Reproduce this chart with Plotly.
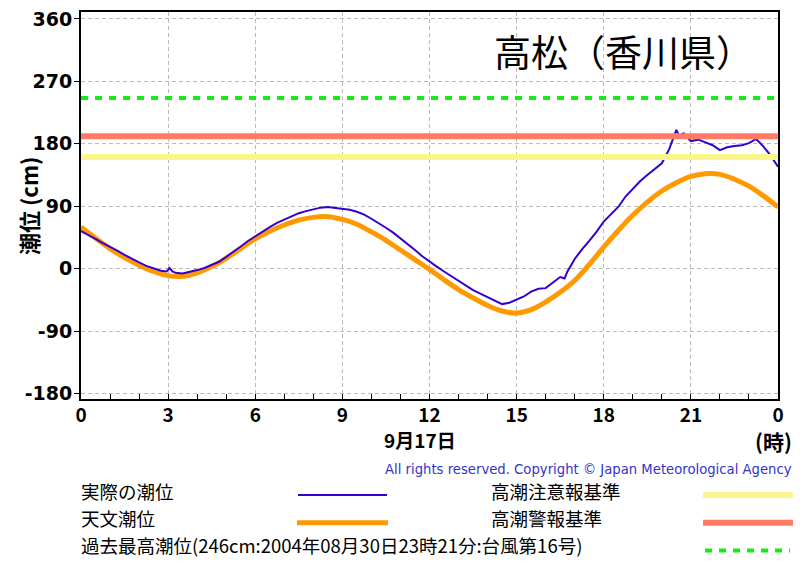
import plotly.graph_objects as go

# --- chart data -------------------------------------------------------------
STATION = "高松（香川県）"
DATE_LABEL = "9月17日"
HOUR_UNIT = "(時)"
Y_TITLE = "潮位 (cm)"
COPYRIGHT = "All rights reserved. Copyright © Japan Meteorological Agency"

HOUR_TICKS = [0, 3, 6, 9, 12, 15, 18, 21, 24]
HOUR_TICK_TEXT = ["0", "3", "6", "9", "12", "15", "18", "21", "0"]
LEVEL_TICKS = [-180, -90, 0, 90, 180, 270, 360]

# astronomical tide (天文潮位), every 30 minutes
ASTRO_HOURS = [h / 2 for h in range(49)]
ASTRO_CM = [
    60, 44, 29, 16, 5, -4, -10, -11, -6, 3, 15, 29, 43, 54, 63, 70, 74, 75,
    71, 64, 53, 41, 27, 13, -1, -16, -30, -42, -53, -61, -64, -59, -48, -34,
    -17, 6, 31, 55, 77, 96, 112, 124, 133, 137, 136, 129, 119, 105, 89,
]

# observed tide (実際の潮位)
OBS_HOURS = [
    0.00, 0.25, 0.50, 0.75, 1.00, 1.25, 1.50, 1.75, 2.00, 2.25, 2.50, 2.75,
    2.95, 3.05, 3.15, 3.25, 3.50, 3.75, 4.00, 4.25, 4.50, 4.75, 5.00, 5.25,
    5.50, 5.75, 6.00, 6.25, 6.50, 6.75, 7.00, 7.25, 7.50, 7.75, 8.00, 8.25,
    8.50, 8.75, 9.00, 9.25, 9.50, 9.75, 10.00, 10.25, 10.50, 10.75, 11.00,
    11.25, 11.50, 11.75, 12.00, 12.25, 12.50, 12.75, 13.00, 13.25, 13.50,
    13.75, 14.00, 14.25, 14.50, 14.75, 15.00, 15.25, 15.50, 15.75, 16.00,
    16.25, 16.50, 16.65, 16.75, 17.00, 17.25, 17.50, 17.75, 18.00, 18.25,
    18.50, 18.75, 19.00, 19.25, 19.50, 19.75, 20.00, 20.25, 20.40, 20.50,
    20.60, 20.75, 21.00, 21.25, 21.50, 21.75, 22.00, 22.25, 22.50, 22.75,
    23.00, 23.25, 23.50, 23.75, 24.00,
]
OBS_CM = [
    54, 49, 43, 37, 32, 26, 20, 14, 9, 4, 0, -3,
    -4, 1, -4, -6, -7, -5, -2, 1, 5, 10, 17, 24,
    32, 40, 47, 54, 60, 66, 71, 76, 80, 83, 86, 88,
    89, 88, 86, 85, 82, 78, 72, 66, 59, 52, 44,
    36, 27, 18, 10, 3, -4, -11, -18, -25, -31,
    -36, -41, -46, -51, -49, -45, -40, -33, -29, -28,
    -20, -12, -14, -4, 14, 28, 40, 53, 68, 78,
    89, 104, 115, 126, 135, 143, 152, 172, 190, 200,
    191, 195, 184, 186, 182, 178, 171, 175, 177, 178,
    181, 187, 176, 163, 147,
]

CAUTION_CM = 161      # 高潮注意報基準
WARNING_CM = 191      # 高潮警報基準
RECORD_CM = 246       # 過去最高潮位

LEGEND_LEFT = ["実際の潮位", "天文潮位",
               "過去最高潮位(246cm:2004年08月30日23時21分:台風第16号)"]
LEGEND_RIGHT = ["高潮注意報基準", "高潮警報基準"]

# --- styling -----------------------------------------------------------------
OBS_COLOR = "#3300cc"
ASTRO_COLOR = "#ff9900"
CAUTION_COLOR = "#f9f68d"
WARNING_COLOR = "#ff7b66"
RECORD_COLOR = "#11ee11"
GRID = "#bbbbbb"
JP_FONT = "Noto Sans CJK JP"

# the page body adds an 8px margin, so the figure is 16px smaller than the
# window; pixel positions below are page positions of the reference.
BODY = 8
FIG_W, FIG_H = 802 - 2 * BODY, 568 - 2 * BODY
PX_L, PX_R, PX_T, PX_B = 81, 778, 8, 399
EDGE = 802 - BODY - 1  # last visible page column


def px_x(x):
    return (x - PX_L) / (PX_R - PX_L)


def px_y(y):
    return (PX_B - y) / (PX_B - PX_T)


def note(text, x, y, size, family=JP_FONT, xanchor="center", color="black",
         **kw):
    return dict(text=text, x=px_x(x), y=px_y(y), xref="paper", yref="paper",
                xanchor=xanchor, yanchor="middle", showarrow=False,
                borderpad=0,
                font=dict(family=family, size=size, color=color), **kw)


fig = go.Figure()

fig.add_trace(go.Scatter(x=ASTRO_HOURS, y=ASTRO_CM, mode="lines",
                         line=dict(color=ASTRO_COLOR, width=5, shape="spline")))
fig.add_trace(go.Scatter(x=OBS_HOURS, y=OBS_CM, mode="lines",
                         line=dict(color=OBS_COLOR, width=2)))
for level, color, width, dash in [
    (CAUTION_CM, CAUTION_COLOR, 6, "solid"),
    (WARNING_CM, WARNING_COLOR, 6, "solid"),
    (RECORD_CM, RECORD_COLOR, 4, "7px,7px"),
]:
    fig.add_trace(go.Scatter(x=[0, 24], y=[level, level], mode="lines",
                             line=dict(color=color, width=width, dash=dash)))

annotations = [
    note(STATION, 623, 47, 37),
    note(f"<b>{Y_TITLE}</b>", 28, 204, 22, textangle=-90),
    note(f"<b>{DATE_LABEL}</b>", 420, 440, 19),
    note(f"<b>{HOUR_UNIT}</b>", EDGE, 441, 21, xanchor="right"),
    note(COPYRIGHT, EDGE, 469, 14.7,
         family="DejaVu Sans Condensed, DejaVu Sans",
         xanchor="right", color="#3333cc"),
]
row_y = [492, 519, 546.5]
for label, ry in zip(LEGEND_LEFT, row_y):
    annotations.append(note(label, 80, ry, 18.5, xanchor="left"))
for label, ry in zip(LEGEND_RIGHT, row_y):
    annotations.append(note(label, 490, ry, 18.5, xanchor="left"))

shapes = []
for (x0, x1, ry, color, width, dash) in [
    (298, 387, 496, OBS_COLOR, 2, "solid"),
    (297, 388, 524, ASTRO_COLOR, 5, "solid"),
    (703, EDGE, 496, CAUTION_COLOR, 6, "solid"),
    (703, EDGE, 524, WARNING_COLOR, 6, "solid"),
    (705, 790, 552, RECORD_COLOR, 4, "7px,7px"),
]:
    shapes.append(dict(type="line", xref="paper", yref="paper",
                       x0=px_x(x0), x1=px_x(x1), y0=px_y(ry), y1=px_y(ry),
                       line=dict(color=color, width=width, dash=dash)))

fig.update_layout(
    width=FIG_W,
    height=FIG_H,
    margin=dict(l=PX_L - BODY, r=FIG_W - (PX_R - BODY), t=PX_T - BODY,
                b=FIG_H - (PX_B - BODY)),
    paper_bgcolor="white",
    plot_bgcolor="white",
    showlegend=False,
    annotations=annotations,
    shapes=shapes,
    xaxis=dict(
        range=[0, 24],
        tickvals=HOUR_TICKS,
        ticktext=[f"<b>{t}</b>" for t in HOUR_TICK_TEXT],
        ticks="inside",
        ticklen=5,
        tickcolor="black",
        minor=dict(dtick=1, ticks="inside", ticklen=5, tickcolor="black",
                   showgrid=False),
        tickfont=dict(family=JP_FONT, size=19, color="black"),
        ticklabelstandoff=-2,
        ticklabeloverflow="allow",
        showgrid=True,
        gridcolor=GRID,
        griddash="4px,3px",
        showline=True,
        linecolor="black",
        linewidth=2,
        mirror=True,
        zeroline=False,
    ),
    yaxis=dict(
        range=[-187.8, 370],
        tickvals=LEVEL_TICKS,
        ticktext=[f"<b>{t}</b>" for t in LEVEL_TICKS],
        ticks="outside",
        ticklen=5,
        tickcolor="black",
        tickfont=dict(family="DejaVu Sans", size=19, color="black"),
        ticklabelstandoff=-2,
        ticklabeloverflow="allow",
        showgrid=True,
        gridcolor=GRID,
        griddash="4px,3px",
        showline=True,
        linecolor="black",
        linewidth=2,
        mirror=True,
        zeroline=False,
    ),
)

fig.write_html("out.html")
